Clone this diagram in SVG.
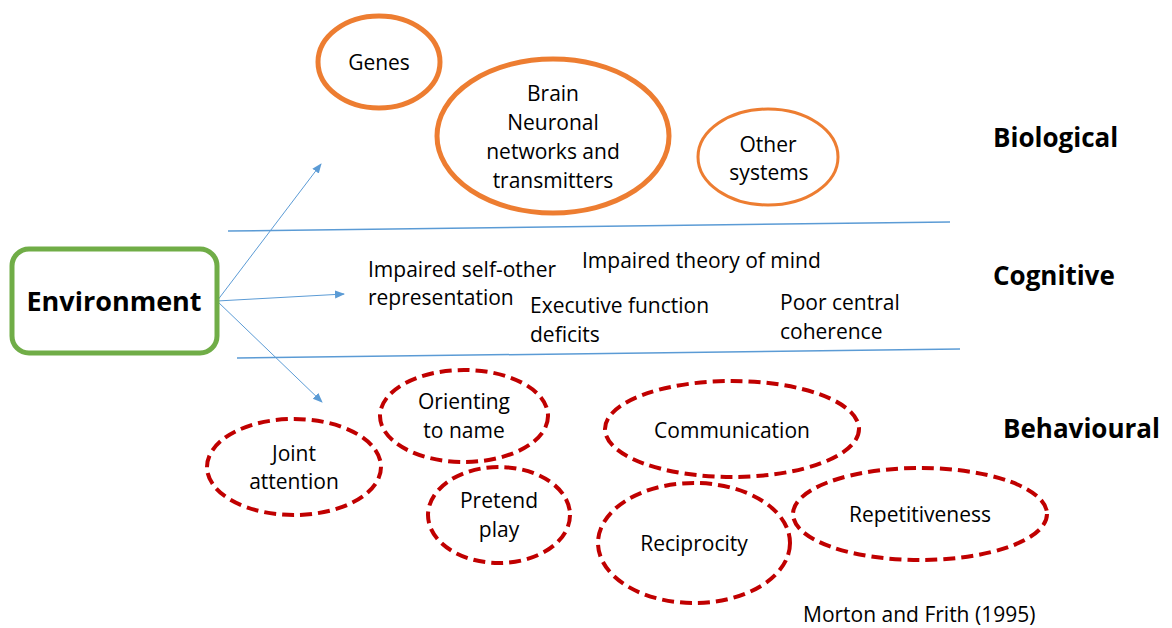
<svg xmlns="http://www.w3.org/2000/svg" width="1172" height="628" viewBox="0 0 1172 628">
<defs>
<style>
.t{font-family:"Open Sans","Liberation Sans",Arial,sans-serif;font-size:21px;fill:#000}
.m{text-anchor:middle}
.b{font-family:"Open Sans","Liberation Sans",Arial,sans-serif;font-weight:bold;font-size:26px;fill:#000}
.bio{fill:#fff;stroke:#ED7D31}
.beh{fill:#fff;stroke:#C00000;stroke-width:4;stroke-dasharray:12 6}
.sep{stroke:#5B9BD5;stroke-width:1.5;fill:none}
.arr{stroke:#5B9BD5;stroke-width:1;fill:none;marker-end:url(#ah)}
</style>
<marker id="ah" viewBox="0 0 10 10" refX="9" refY="5" markerWidth="10" markerHeight="10" markerUnits="userSpaceOnUse" orient="auto">
<path d="M0,1 L10,5 L0,9 z" fill="#5B9BD5"/>
</marker>
</defs>
<rect width="1172" height="628" fill="#fff"/>
<g id="connectors">
<line class="sep" x1="228" y1="231" x2="950" y2="222"/>
<line class="sep" x1="237" y1="358" x2="960" y2="349"/>
<line class="arr" x1="217" y1="301" x2="321" y2="164"/>
<line class="arr" x1="217" y1="301" x2="344" y2="294"/>
<line class="arr" x1="217" y1="301" x2="322" y2="402"/>
</g>
<g id="genes">
<ellipse class="bio" cx="379" cy="62" rx="61" ry="46" stroke-width="5"/>
<text class="t m" x="379" y="70">Genes</text>
</g>
<g id="brain">
<ellipse class="bio" cx="553" cy="136" rx="116" ry="77" stroke-width="5"/>
<text class="t m" x="553" y="101">Brain</text>
<text class="t m" x="553" y="130">Neuronal</text>
<text class="t m" x="553" y="159">networks and</text>
<text class="t m" x="553" y="188">transmitters</text>
</g>
<g id="other-systems">
<ellipse class="bio" cx="768" cy="157" rx="70" ry="48" stroke-width="3"/>
<text class="t m" x="768" y="152">Other</text>
<text class="t m" x="769" y="180">systems</text>
</g>
<g id="label-biological"><text class="b" x="993" y="147">Biological</text></g>
<g id="label-cognitive"><text class="b" x="993" y="285">Cognitive</text></g>
<g id="label-behavioural"><text class="b" x="1003" y="438">Behavioural</text></g>
<g id="environment">
<rect x="12" y="249" width="205" height="104" rx="17" ry="17" fill="#fff" stroke="#70AD47" stroke-width="5"/>
<text class="b m" x="114" y="311" style="font-size:27px">Environment</text>
</g>
<g id="self-other">
<text class="t" x="368" y="277">Impaired self-other</text>
<text class="t" x="368" y="305">representation</text>
</g>
<g id="theory-of-mind"><text class="t" x="582" y="268">Impaired theory of mind</text></g>
<g id="executive">
<text class="t" x="530" y="313">Executive function</text>
<text class="t" x="530" y="342">deficits</text>
</g>
<g id="coherence">
<text class="t" x="780" y="310">Poor central</text>
<text class="t" x="780" y="339">coherence</text>
</g>
<g id="joint-attention">
<ellipse class="beh" cx="294" cy="467" rx="87" ry="48"/>
<text class="t m" x="294" y="461">Joint</text>
<text class="t m" x="294" y="489">attention</text>
</g>
<g id="orienting">
<ellipse class="beh" cx="464" cy="416" rx="84" ry="46"/>
<text class="t m" x="464" y="409">Orienting</text>
<text class="t m" x="464" y="438">to name</text>
</g>
<g id="pretend-play">
<ellipse class="beh" cx="499" cy="515" rx="71" ry="48"/>
<text class="t m" x="499" y="508">Pretend</text>
<text class="t m" x="499" y="537">play</text>
</g>
<g id="communication">
<ellipse class="beh" cx="732" cy="429" rx="127" ry="48"/>
<text class="t m" x="732" y="438">Communication</text>
</g>
<g id="reciprocity">
<ellipse class="beh" cx="694" cy="543" rx="96" ry="60"/>
<text class="t m" x="694" y="551">Reciprocity</text>
</g>
<g id="repetitiveness">
<ellipse class="beh" cx="920" cy="514" rx="127" ry="46"/>
<text class="t m" x="920" y="522">Repetitiveness</text>
</g>
<g id="citation"><text class="t" x="803" y="622">Morton and Frith (1995)</text></g>
</svg>
